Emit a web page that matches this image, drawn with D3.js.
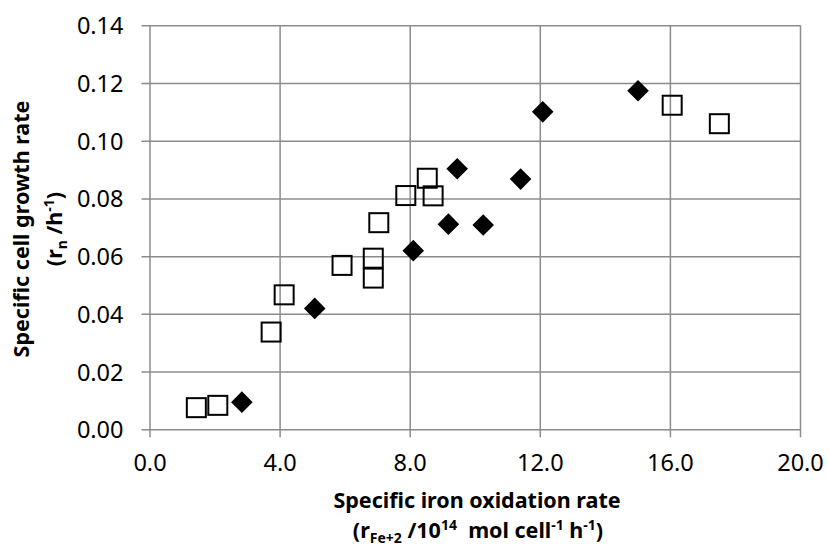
<!DOCTYPE html>
<html>
<head>
<meta charset="utf-8">
<script src="https://cdn.jsdelivr.net/npm/d3@7"></script>
<style>
  html, body { margin: 0; padding: 0; background: #fff; }
  svg { display: block; }
  text { font-family: "Noto Sans", "Open Sans", sans-serif; fill: #000; }
</style>
</head>
<body>
<svg id="chart" width="828" height="555"></svg>
<script>
// ---- data ----
const squareX = [1.44, 2.10, 3.74, 4.14, 5.92, 6.88, 6.88, 7.05, 7.88, 8.54, 8.72, 16.07, 17.52];
const squareY = [0.0075, 0.0083, 0.0337, 0.0466, 0.0568, 0.0524, 0.0593, 0.0716, 0.0810, 0.0870, 0.0809, 0.1123, 0.1059];
const diamondX = [2.84, 5.08, 8.11, 9.19, 9.46, 10.26, 11.41, 12.09, 15.02];
const diamondY = [0.0094, 0.0419, 0.0619, 0.0711, 0.0903, 0.0708, 0.0867, 0.1100, 0.1173];
const xTicks = [0, 4, 8, 12, 16, 20];
const yTicks = [0, 0.02, 0.04, 0.06, 0.08, 0.10, 0.12, 0.14];

const svg = d3.select("#chart");
const pLeft = 149.5, pRight = 800, pTop = 25.3, pBottom = 429.3;

const x = d3.scaleLinear().domain([0, 20]).range([pLeft, pRight]);
const y = d3.scaleLinear().domain([0, 0.14]).range([pBottom, pTop]);

const gridColor = "#8c8c8c";
const tickFont = 23.5, titleFont = 21.5, subFont = 14;

// horizontal gridlines (with small outward ticks on left)
const yAxis = d3.axisLeft(y).tickValues(yTicks).tickFormat(d3.format(".2f"))
  .tickSize(-(pRight - pLeft)).tickSizeOuter(0);
const gy = svg.append("g").attr("transform", `translate(${pLeft},0)`).call(yAxis);
gy.select(".domain").remove();
gy.selectAll(".tick line").attr("stroke", gridColor).attr("stroke-width", 1.5)
  .attr("x1", -8);
gy.selectAll(".tick text").attr("font-size", tickFont).attr("x", -26)
  .attr("dy", "0.36em").style("font-family", '"Noto Sans", sans-serif');

// vertical gridlines (with small outward ticks at bottom)
const xAxis = d3.axisBottom(x).tickValues(xTicks).tickFormat(d3.format(".1f"))
  .tickSize(-(pBottom - pTop)).tickSizeOuter(0);
const gx = svg.append("g").attr("transform", `translate(0,${pBottom})`).call(xAxis);
gx.select(".domain").remove();
gx.selectAll(".tick line").attr("stroke", gridColor).attr("stroke-width", 1.5)
  .attr("y1", 8);
gx.selectAll(".tick text").attr("font-size", tickFont).attr("y", 42).attr("dy", 0)
  .style("font-family", '"Noto Sans", sans-serif');

// open squares
const sq = 19;
svg.append("g").selectAll("rect").data(squareX.map((v, i) => [v, squareY[i]]))
  .join("rect")
  .attr("x", d => x(d[0]) - sq / 2)
  .attr("y", d => y(d[1]) - sq / 2)
  .attr("width", sq).attr("height", sq)
  .attr("fill", "none").attr("stroke", "#000").attr("stroke-width", 2);

// filled diamonds
const dr = 10.8;
svg.append("g").selectAll("path").data(diamondX.map((v, i) => [v, diamondY[i]]))
  .join("path")
  .attr("d", d => {
    const cx = x(d[0]), cy = y(d[1]);
    return `M${cx},${cy - dr}L${cx + dr},${cy}L${cx},${cy + dr}L${cx - dr},${cy}Z`;
  })
  .attr("fill", "#000");

// y-axis title
const yt = svg.append("g").attr("transform", "translate(0,229) rotate(-90)");
yt.append("text").attr("x", 0).attr("y", 29).attr("text-anchor", "middle")
  .attr("font-size", titleFont).attr("font-weight", "bold").text("Specific cell growth rate");
const yt2 = yt.append("text").attr("x", 0).attr("y", 62).attr("text-anchor", "middle")
  .attr("font-size", titleFont).attr("font-weight", "bold");
yt2.append("tspan").text("(r");
yt2.append("tspan").attr("font-size", subFont).attr("dy", 5).text("n");
yt2.append("tspan").attr("dy", -5).text(" /h");
yt2.append("tspan").attr("font-size", subFont).attr("dy", -8).text("-1");
yt2.append("tspan").attr("dy", 8).text(")");

// x-axis title
svg.append("text").attr("x", 477).attr("y", 508).attr("text-anchor", "middle")
  .attr("font-size", titleFont).attr("font-weight", "bold").text("Specific iron oxidation rate");
const xt2 = svg.append("text").attr("x", 478).attr("y", 538).attr("text-anchor", "middle")
  .attr("font-size", titleFont).attr("font-weight", "bold").style("white-space", "pre");
xt2.append("tspan").text("(r");
xt2.append("tspan").attr("font-size", subFont).attr("dy", 5).text("Fe+2");
xt2.append("tspan").attr("dy", -5).text(" /10");
xt2.append("tspan").attr("font-size", subFont).attr("dy", -8).text("14");
xt2.append("tspan").attr("dy", 8).text("  mol cell");
xt2.append("tspan").attr("font-size", subFont).attr("dy", -8).text("-1");
xt2.append("tspan").attr("dy", 8).text(" h");
xt2.append("tspan").attr("font-size", subFont).attr("dy", -8).text("-1");
xt2.append("tspan").attr("dy", 8).text(")");
</script>
</body>
</html>
